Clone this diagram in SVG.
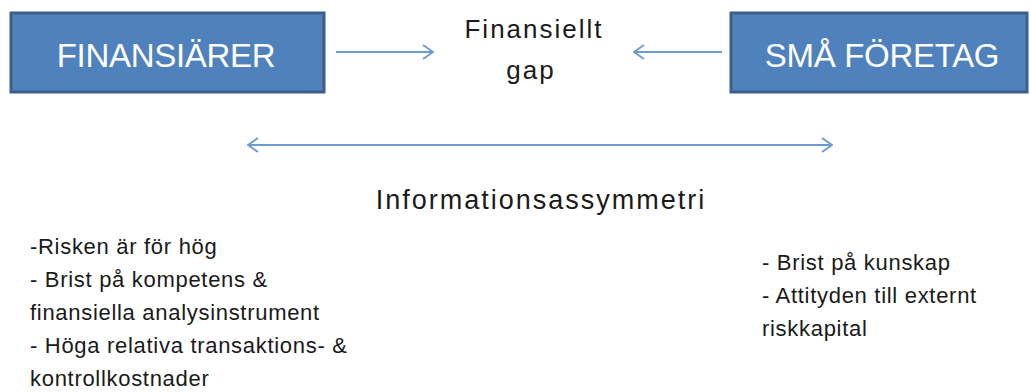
<svg xmlns="http://www.w3.org/2000/svg" width="1030" height="392" viewBox="0 0 1030 392">
<defs>
<style>
.box{fill:#4f81bd;stroke:#3a5f8c;stroke-width:3}
.bt{font-family:"Liberation Sans",Arial,sans-serif;font-size:33px;letter-spacing:-0.3px;fill:#ffffff;text-anchor:middle}
.t{font-family:"Liberation Sans",Arial,sans-serif;fill:#1a1a1a}
.li{font-size:22px;letter-spacing:0.7px}
.c{stroke:#6f9bd3;stroke-width:2;fill:none}
</style>
<marker id="ah" viewBox="0 0 12 16" refX="11" refY="8" markerWidth="12" markerHeight="16" markerUnits="userSpaceOnUse" orient="auto-start-reverse">
<path d="M1,1 L11,8 L1,15" fill="none" stroke="#6f9bd3" stroke-width="2"/>
</marker>
</defs>
<rect width="1030" height="392" fill="#ffffff"/>
<g id="finansiarer">
<rect class="box" x="11" y="13" width="313" height="79"/>
<text class="bt" x="166" y="67">FINANSIÄRER</text>
</g>
<g id="sma-foretag">
<rect class="box" x="731" y="13" width="296" height="79"/>
<text class="bt" x="882" y="67">SMÅ FÖRETAG</text>
</g>
<g id="gap">
<text class="t" x="534" y="38" font-size="26" letter-spacing="2" text-anchor="middle">Finansiellt</text>
<text class="t" x="531" y="79" font-size="26" letter-spacing="2" text-anchor="middle">gap</text>
</g>
<g id="info">
<text class="t" x="541" y="209" font-size="27" letter-spacing="2" text-anchor="middle">Informationsassymmetri</text>
</g>
<g id="left-list">
<text class="t li" x="30" y="254">-Risken är för hög</text>
<text class="t li" x="30" y="287">- Brist på kompetens &amp;</text>
<text class="t li" x="30" y="320">finansiella analysinstrument</text>
<text class="t li" x="30" y="353" letter-spacing="0.85">- Höga relativa transaktions- &amp;</text>
<text class="t li" x="30" y="386">kontrollkostnader</text>
</g>
<g id="right-list">
<text class="t li" x="762" y="270">- Brist på kunskap</text>
<text class="t li" x="762" y="303" letter-spacing="2">- Attityden till externt</text>
<text class="t li" x="762" y="336">riskkapital</text>
</g>
<g id="connectors">
<line class="c" x1="336" y1="52" x2="433" y2="52" marker-end="url(#ah)"/>
<line class="c" x1="722" y1="52" x2="634" y2="52" marker-end="url(#ah)"/>
<line class="c" x1="248" y1="145" x2="832" y2="145" marker-start="url(#ah)" marker-end="url(#ah)"/>
</g>
</svg>
